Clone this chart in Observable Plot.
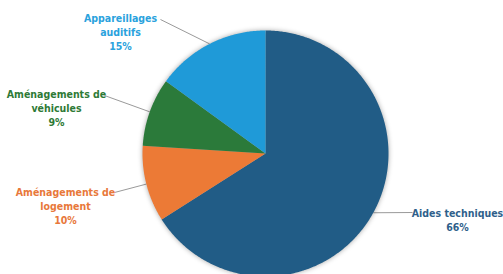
<!DOCTYPE html>
<html><head><meta charset="utf-8">
<script src="https://cdn.jsdelivr.net/npm/d3@7"></script>
<script src="https://cdn.jsdelivr.net/npm/@observablehq/plot@0.6"></script>
<style>
html,body{margin:0;padding:0;background:#fff;}
g.pie-slices{filter:drop-shadow(0 0 2.5px rgba(0,0,0,0.35));}
</style>
</head><body>
<div id="chart"></div>
<script>
// Data
const categories = ["Aides techniques","Aménagements de logement","Aménagements de véhicules","Appareillages auditifs"];
const values = [66, 10, 9, 15];
const labelLines = [
  ["Aides techniques","66%"],
  ["Aménagements de","logement","10%"],
  ["Aménagements de","véhicules","9%"],
  ["Appareillages","auditifs","15%"]
];

// Styles
const sliceColors = ["#215c86","#ec7a36","#2b7a3a","#1f9ad8"];
const labelColors = ["#2f5f8b","#e8783a","#2e7a36","#2aa2dd"];

// Layout (pixels)
const W = 503, H = 274, cx = 265, cy = 153, R = 123, lineStep = 14;
const labelLayout = [
  {x: 457, y: 213, lx: 412, ly: 212},
  {x: 65, y: 192, lx: 114, ly: 192},
  {x: 56, y: 94, lx: 104, ly: 95},
  {x: 120, y: 18, lx: 160, ly: 19}
];

const arcs = d3.pie().sort(null).value(d => d)(values);
const pt = a => [cx + R * Math.sin(a), cy - R * Math.cos(a)];

const slicePts = [];
arcs.forEach((a, i) => {
  slicePts.push({k: categories[i], x: cx, y: cy});
  const n = Math.max(2, Math.ceil((a.endAngle - a.startAngle) / 0.01));
  for (let j = 0; j <= n; j++) {
    const t = a.startAngle + (a.endAngle - a.startAngle) * j / n;
    const [x, y] = pt(t);
    slicePts.push({k: categories[i], x, y});
  }
  slicePts.push({k: categories[i], x: cx, y: cy});
});

const leaders = arcs.map((a, i) => {
  const [x1, y1] = pt((a.startAngle + a.endAngle) / 2);
  return {x1, y1, x2: labelLayout[i].lx, y2: labelLayout[i].ly};
});

const font = "'DejaVu Sans Condensed', 'DejaVu Sans', sans-serif";
const textMarks = categories.map((c, i) => Plot.text(
  labelLines[i].map((s, j) => ({s, j})), {
  x: () => labelLayout[i].x, y: d => labelLayout[i].y + d.j * lineStep,
  text: "s", fill: labelColors[i], fontWeight: "bold", fontSize: 10.5,
  fontFamily: font, textAnchor: "middle"
}));

const chart = Plot.plot({
  width: W, height: H, margin: 0,
  x: {type: "identity", axis: null}, y: {type: "identity", axis: null},
  color: {domain: categories, range: sliceColors},
  style: {background: "#fff"},
  marks: [
    Plot.link(leaders, {x1: "x1", y1: "y1", x2: "x2", y2: "y2", stroke: "#9a9a9a", strokeWidth: 1}),
    Plot.line(slicePts, {x: "x", y: "y", z: "k", fill: "k", stroke: null}),
    ...textMarks
  ]
});
document.getElementById("chart").appendChild(chart);
// apply soft shadow to slice group
const g = chart.querySelector("g[aria-label='line']");
if (g) g.setAttribute("class", (g.getAttribute("class") || "") + " pie-slices");
</script>
</body></html>
